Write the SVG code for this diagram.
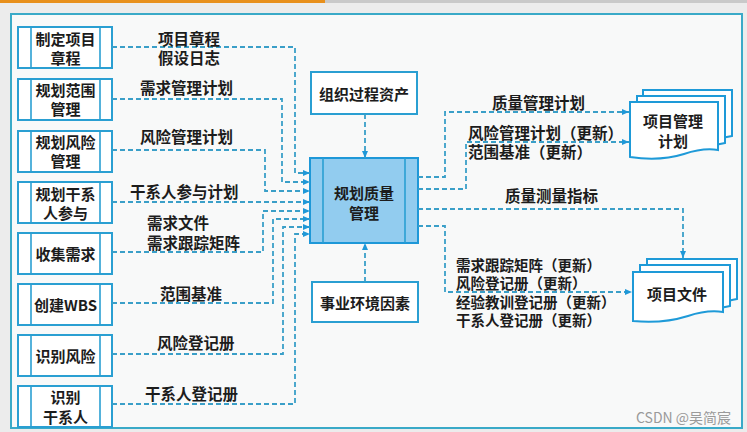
<svg xmlns="http://www.w3.org/2000/svg" width="747" height="432" viewBox="0 0 747 432">
<defs>
<style>
.bg{fill:#ececec}
.frame{fill:#f8f9f9;stroke:#3aaac8;stroke-width:2}
.box{fill:#ffffff;stroke:#2a9fd2;stroke-width:2}
.inner{stroke:#2a9fd2;stroke-width:1.6}
.main{fill:#92ccef;stroke:#1e98d8;stroke-width:2}
.doc{fill:#ffffff;stroke:#1e9ad8;stroke-width:2}
.t{font-family:"Noto Sans CJK SC","Noto Sans",sans-serif;font-size:15px;font-weight:bold;fill:#1c1c1c;dominant-baseline:central}
.c{text-anchor:middle}
.lbl{font-size:15.5px}
.sm{font-size:14.5px}
.conn{fill:none;stroke:#3a9fc8;stroke-width:1.8;stroke-dasharray:5 3}
.wm{font-family:"Noto Sans CJK SC","Liberation Sans",sans-serif;font-size:14px;fill:#9a9a9a}
</style>
<marker id="arr" markerWidth="7" markerHeight="6" refX="7" refY="3" orient="auto" markerUnits="userSpaceOnUse">
<path d="M0,0 L7,3 L0,6 Z" fill="#1e98d8"/>
</marker>
</defs>
<rect class="bg" x="0" y="0" width="747" height="432"/>
<rect x="0" y="0" width="325" height="3" fill="#e8901c"/>
<rect x="325" y="0" width="422" height="3" fill="#c9c9c9"/>
<rect class="frame" x="11" y="14" width="731" height="414"/>

<g id="n1"><rect class="box" x="18" y="27" width="94" height="41"/><line class="inner" x1="31" y1="27" x2="31" y2="68"/><line class="inner" x1="100" y1="27" x2="100" y2="68"/><text class="t c" x="65.5" y="38">制定项目</text><text class="t c" x="65.5" y="57">章程</text></g>
<g id="n2"><rect class="box" x="18" y="79" width="94" height="41"/><line class="inner" x1="31" y1="79" x2="31" y2="120"/><line class="inner" x1="100" y1="79" x2="100" y2="120"/><text class="t c" x="65.5" y="89">规划范围</text><text class="t c" x="65.5" y="108">管理</text></g>
<g id="n3"><rect class="box" x="18" y="131" width="94" height="41"/><line class="inner" x1="31" y1="131" x2="31" y2="172"/><line class="inner" x1="100" y1="131" x2="100" y2="172"/><text class="t c" x="65.5" y="141">规划风险</text><text class="t c" x="65.5" y="160">管理</text></g>
<g id="n4"><rect class="box" x="18" y="182" width="94" height="41"/><line class="inner" x1="31" y1="182" x2="31" y2="223"/><line class="inner" x1="100" y1="182" x2="100" y2="223"/><text class="t c" x="65.5" y="193">规划干系</text><text class="t c" x="65.5" y="212">人参与</text></g>
<g id="n5"><rect class="box" x="18" y="233" width="94" height="41"/><line class="inner" x1="31" y1="233" x2="31" y2="274"/><line class="inner" x1="100" y1="233" x2="100" y2="274"/><text class="t c" x="65.5" y="253">收集需求</text></g>
<g id="n6"><rect class="box" x="18" y="284" width="94" height="41"/><line class="inner" x1="31" y1="284" x2="31" y2="325"/><line class="inner" x1="100" y1="284" x2="100" y2="325"/><text class="t c" x="65.5" y="304">创建WBS</text></g>
<g id="n7"><rect class="box" x="18" y="335" width="94" height="41"/><line class="inner" x1="31" y1="335" x2="31" y2="376"/><line class="inner" x1="100" y1="335" x2="100" y2="376"/><text class="t c" x="65.5" y="355">识别风险</text></g>
<g id="n8"><rect class="box" x="18" y="386" width="94" height="41"/><line class="inner" x1="31" y1="386" x2="31" y2="427"/><line class="inner" x1="100" y1="386" x2="100" y2="427"/><text class="t c" x="65.5" y="396">识别</text><text class="t c" x="65.5" y="416">干系人</text></g>

<g id="opa"><rect class="box" x="311" y="72" width="106" height="42"/><text class="t c" x="364" y="93">组织过程资产</text></g>
<g id="eef"><rect class="box" x="312" y="282" width="106" height="40"/><text class="t c" x="365" y="302">事业环境因素</text></g>
<g id="main"><rect class="main" x="310" y="158" width="108" height="85"/><line class="inner" x1="323" y1="158" x2="323" y2="243"/><line class="inner" x1="405" y1="158" x2="405" y2="243"/><text class="t c" x="364" y="192">规划质量</text><text class="t c" x="364" y="212">管理</text></g>

<g id="pmp">
<path class="doc" d="M643 90 H732 V136 C722 138 716 139 710 140 L643 140 Z"/>
<path class="doc" d="M637 96 H725 V143 C716 145 710 146 703 147 L637 147 Z"/>
<path class="doc" d="M630 102 H718 V150 C706 148 696 150 684 154 C668 159 650 160 630 157 Z"/>
<text class="t c" x="673" y="120">项目管理</text><text class="t c" x="673" y="140">计划</text>
</g>
<g id="pd">
<path class="doc" d="M647 259 H737 V299 C728 301 721 302 715 303 L647 303 Z"/>
<path class="doc" d="M640 265 H730 V306 C721 308 714 309 707 310 L640 310 Z"/>
<path class="doc" d="M633 272 H723 V312 C710 310 700 312 688 316 C672 321 653 323 633 321 Z"/>
<text class="t c" x="677" y="293">项目文件</text>
</g>

<g id="connectors">
<path class="conn" marker-end="url(#arr)" d="M112 47 H295 V173 H310"/>
<path class="conn" marker-end="url(#arr)" d="M112 99 H282 V182 H310"/>
<path class="conn" marker-end="url(#arr)" d="M112 150 H265 V191 H310"/>
<path class="conn" marker-end="url(#arr)" d="M112 202 H310"/>
<path class="conn" marker-end="url(#arr)" d="M112 252 H263 V211 H310"/>
<path class="conn" marker-end="url(#arr)" d="M112 303 H273 V219 H310"/>
<path class="conn" marker-end="url(#arr)" d="M112 354 H283 V227 H310"/>
<path class="conn" marker-end="url(#arr)" d="M112 404 H295 V234 H310"/>
<path class="conn" marker-end="url(#arr)" d="M365 114 V158"/>
<path class="conn" marker-end="url(#arr)" d="M365 282 V243"/>
<path class="conn" marker-end="url(#arr)" d="M418 177 H445 V112 H629"/>
<path class="conn" marker-end="url(#arr)" d="M418 189 H466 V142 H629"/>
<path class="conn" marker-end="url(#arr)" d="M418 209 H683 V258"/>
<path class="conn" marker-end="url(#arr)" d="M418 226 H445 V292 H632"/>
</g>

<g id="labels">
<text class="t lbl" x="158" y="38">项目章程</text>
<text class="t lbl" x="158" y="57">假设日志</text>
<text class="t lbl" x="140" y="87">需求管理计划</text>
<text class="t lbl" x="140" y="136">风险管理计划</text>
<text class="t lbl" x="130" y="191">干系人参与计划</text>
<text class="t lbl" x="147" y="222">需求文件</text>
<text class="t lbl" x="147" y="242">需求跟踪矩阵</text>
<text class="t lbl" x="160" y="293">范围基准</text>
<text class="t lbl" x="157" y="342">风险登记册</text>
<text class="t lbl" x="145" y="393">干系人登记册</text>
<text class="t lbl" x="492" y="102">质量管理计划</text>
<text class="t lbl" x="468" y="132">风险管理计划（更新）</text>
<text class="t lbl" x="468" y="151">范围基准（更新）</text>
<text class="t lbl" x="505" y="195">质量测量指标</text>
<text class="t sm" x="456" y="264">需求跟踪矩阵（更新）</text>
<text class="t sm" x="456" y="282.5">风险登记册（更新）</text>
<text class="t sm" x="456" y="301">经验教训登记册（更新）</text>
<text class="t sm" x="456" y="319.5">干系人登记册（更新）</text>
</g>
<text class="wm" x="636" y="423">CSDN @吴简宸</text>
</svg>
